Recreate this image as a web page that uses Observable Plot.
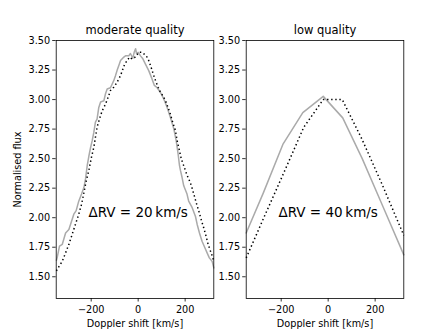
<!DOCTYPE html>
<html><head><meta charset="utf-8">
<script src="https://cdn.jsdelivr.net/npm/d3@7"></script>
<script src="https://cdn.jsdelivr.net/npm/@observablehq/plot@0.6"></script>
<style>
body{margin:0;background:#fff;}
#wrap{position:relative;width:448px;height:336px;overflow:hidden;}
#wrap svg{position:absolute;top:0;}
</style></head><body><div id="wrap"></div>
<script>
const titles = ["moderate quality", "low quality"];
const annText = ["\u0394RV = 20\u2009km/s", "\u0394RV = 40\u2009km/s"];
const annX = [0, 0];
const annY = [2.04, 2.04];
const xTicks = [-200, 0, 200];
const yTicks = [1.5, 1.75, 2.0, 2.25, 2.5, 2.75, 3.0, 3.25, 3.5];
const xLabel = "Doppler shift [km/s]";
const yLabel = "Normalised flux";

// moderate quality: template (grey) and shifted spectrum (dotted)
const modGrayX = [-348,-345,-335,-323,-309,-295,-274,-264,-253,-241,-231,-224,-217,-210,-203,-196,-189,-182,-175,-168,-160,-146,-139,-132,-118,-111,-104,-97,-90,-82,-75,-61,-54,-40,-33,-23,-17,-11,-7,0,10,20,31,45,59,69,81,95,109,123,137,152,162,170,176,180,187,194,208,215,230,244,251,261,272,284,294,303,315,322];
const modGrayY = [1.64,1.66,1.76,1.775,1.87,1.90,2.03,2.06,2.14,2.20,2.255,2.33,2.44,2.52,2.59,2.65,2.72,2.81,2.835,2.93,2.98,2.99,3.05,3.09,3.10,3.13,3.16,3.20,3.245,3.29,3.33,3.36,3.37,3.37,3.39,3.35,3.40,3.43,3.39,3.40,3.37,3.345,3.30,3.245,3.175,3.12,3.10,3.06,3.005,2.935,2.85,2.75,2.65,2.54,2.44,2.40,2.34,2.27,2.20,2.14,2.085,2.01,1.945,1.87,1.80,1.745,1.70,1.66,1.63,1.575];
const modDotX = [-348,-345,-323,-309,-295,-281,-267,-253,-241,-231,-221,-210,-199,-189,-182,-175,-165,-153,-139,-128,-118,-104,-90,-75,-65,-57,-47,-37,-26,-16,-7,3,14,24,34,45,55,64,74,85,95,105,116,127,137,147,159,166,176,184,194,201,208,215,227,237,247,258,268,279,289,298,308,318,322];
const modDotY = [1.55,1.562,1.632,1.703,1.774,1.859,1.944,2.029,2.114,2.212,2.312,2.40,2.51,2.594,2.679,2.764,2.835,2.906,2.962,3.019,3.076,3.104,3.146,3.203,3.259,3.302,3.33,3.359,3.344,3.353,3.373,3.401,3.401,3.387,3.373,3.33,3.274,3.217,3.16,3.104,3.061,3.033,2.991,2.934,2.877,2.807,2.736,2.651,2.566,2.495,2.44,2.40,2.36,2.33,2.269,2.199,2.128,2.057,1.986,1.915,1.845,1.774,1.717,1.66,1.63];

// low quality
const lowGrayX = [-349,-276,-193,-108,-21,62,145,234,322];
const lowGrayY = [1.87,2.21,2.62,2.89,3.027,2.845,2.50,2.09,1.685];
const lowDotX = [-349,-274,-189,-104,-21,60,145,230,322];
const lowDotY = [1.66,2.0,2.38,2.765,3.0,3.0,2.66,2.28,1.85];

const rows = (xs, ys) => xs.map((x, i) => ({x, y: ys[i]}));

function panel(i, gx, gy, dx, dy, opts) {
  return Plot.plot({
    width: opts.width,
    height: 336,
    marginLeft: opts.marginLeft,
    marginRight: opts.marginRight,
    marginTop: 40,
    marginBottom: 38,
    style: {fontFamily: "'DejaVu Sans', sans-serif", fontSize: "9.7px", background: "transparent", color: "black", overflow: "visible"},
    x: {domain: [-349, 322]},
    y: {domain: [1.316, 3.5]},
    marks: [
      Plot.line(rows(gx, gy), {x: "x", y: "y", stroke: "#aaaaaa", strokeWidth: 1.5}),
      Plot.line(rows(dx, dy), {x: "x", y: "y", stroke: "black", strokeWidth: 1.5, strokeDasharray: "1.4,2.7", strokeLinecap: "butt"}),
      Plot.text([annText[i]], {x: [annX[i]], y: [annY[i]], text: d => d, fontSize: 13.5, textAnchor: "middle"}),
      Plot.frame({stroke: "black", strokeWidth: 0.8}),
      Plot.axisX({ticks: xTicks, tickFormat: d3.format("d"), tickSize: 3.5, tickPadding: 4, strokeWidth: 0.8,
        label: xLabel, labelAnchor: "center", labelOffset: 28, labelArrow: "none"}),
      Plot.axisY({ticks: yTicks, tickFormat: d3.format(".2f"), tickSize: 3.5, tickPadding: 2.5, strokeWidth: 0.8,
        label: opts.yLabel, labelAnchor: "center", labelOffset: 42.5, labelArrow: "none"}),
      Plot.text([titles[i]], {frameAnchor: "top", lineAnchor: "bottom", dy: -6.5, fontSize: 11.5})
    ]
  });
}

const wrap = document.getElementById("wrap");
const p1 = panel(0, modGrayX, modGrayY, modDotX, modDotY, {width: 216, marginLeft: 55.7, marginRight: 2.7, yLabel: yLabel});
p1.style.left = "0px";
const p2 = panel(1, lowGrayX, lowGrayY, lowDotX, lowDotY, {width: 232, marginLeft: 29.7, marginRight: 44.7, yLabel: null});
p2.style.left = "216px";
wrap.appendChild(p1);
wrap.appendChild(p2);
</script></body></html>
